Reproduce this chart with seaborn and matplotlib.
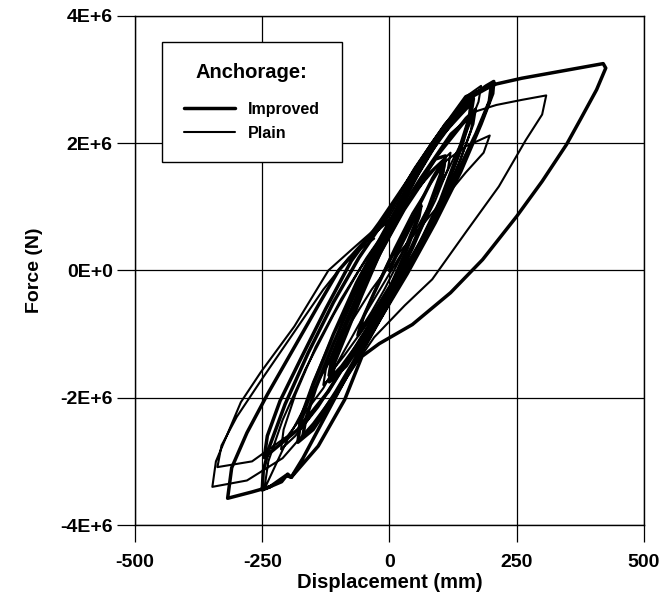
import matplotlib
matplotlib.use("Agg")
import matplotlib.pyplot as plt
from matplotlib.lines import Line2D
import seaborn as sns
import pandas as pd

# Improved anchorage (thick line): (displacement mm, force MN) traced along the cycles
improved_pts = [
    (0, 0), (20, 0.35), (45, 0.75), (62, 1.02),
    (58, 0.85), (35, 0.35), (5, -0.2), (-30, -0.65), (-62, -1.02),
    (-55, -0.8), (-30, -0.35), (0, 0.15), (30, 0.6), (60, 1.05), (85, 1.45), (105, 1.72),
    (100, 1.5), (75, 0.95), (40, 0.3), (0, -0.3), (-45, -0.95), (-85, -1.45), (-112, -1.68),
    (-108, -1.45), (-85, -1.0), (-55, -0.4), (-20, 0.25), (20, 0.85), (60, 1.4), (90, 1.75), (110, 1.8),
    (105, 1.55), (80, 1.0), (45, 0.35), (5, -0.3), (-40, -0.95), (-85, -1.5), (-118, -1.75),
    (-115, -1.5), (-95, -1.05), (-65, -0.45), (-30, 0.2), (10, 0.8), (55, 1.5), (100, 2.1), (140, 2.45), (160, 2.62),
    (157, 2.4), (135, 1.85), (100, 1.1), (55, 0.35), (5, -0.4), (-50, -1.15), (-105, -1.9), (-145, -2.4), (-170, -2.6),
    (-165, -2.35), (-145, -1.85), (-110, -1.15), (-70, -0.4), (-25, 0.35), (25, 1.1), (80, 1.85), (130, 2.4), (165, 2.7),
    (160, 2.45), (140, 1.9), (105, 1.15), (60, 0.4), (10, -0.35), (-45, -1.15), (-105, -1.95), (-150, -2.5), (-180, -2.7),
    (-175, -2.4), (-150, -1.8), (-110, -1.0), (-65, -0.2), (-15, 0.55), (40, 1.35), (100, 2.15), (155, 2.7), (190, 2.9), (205, 2.97),
    (203, 2.78), (180, 2.3), (140, 1.55), (90, 0.75), (35, -0.05), (-25, -0.85), (-80, -1.6), (-130, -2.35), (-170, -2.95),
    (-193, -3.25), (-200, -3.2), (-212, -3.32), (-250, -3.45),
    (-248, -3.15), (-235, -2.75), (-205, -2.1), (-160, -1.3), (-110, -0.5), (-60, 0.2), (-5, 0.85), (50, 1.6), (110, 2.3), (160, 2.72), (200, 2.9),
    (196, 2.65), (170, 2.15), (125, 1.4), (70, 0.55), (10, -0.25), (-55, -1.05), (-120, -1.9), (-180, -2.5), (-225, -2.8), (-246, -2.94),
    (-240, -2.6), (-215, -2.05), (-175, -1.4), (-125, -0.6), (-75, 0.15), (-20, 0.75), (35, 1.4), (84, 2.0), (150, 2.73), (210, 2.93),
    (260, 3.02), (330, 3.12), (385, 3.2), (420, 3.25),
    (425, 3.18), (407, 2.84), (375, 2.37), (348, 1.98), (300, 1.4), (250, 0.85), (183, 0.17), (120, -0.35), (45, -0.85),
    (-20, -1.15), (-54, -1.35), (-88, -2.03), (-140, -2.76), (-193, -3.25), (-203, -3.22), (-235, -3.4), (-270, -3.48), (-318, -3.58),
    (-310, -3.1), (-280, -2.55), (-240, -1.95), (-190, -1.25), (-140, -0.55), (-100, 0.0), (-50, 0.45), (0, 0.8),
]

# Plain anchorage (thin line)
plain_pts = [
    (0, 0), (25, 0.5), (55, 0.95),
    (50, 0.75), (25, 0.25), (-10, -0.3), (-35, -0.65), (-55, -0.9),
    (-50, -0.7), (-25, -0.25), (10, 0.35), (45, 0.9), (80, 1.35), (110, 1.72),
    (105, 1.5), (80, 1.0), (45, 0.4), (0, -0.25), (-45, -0.85), (-90, -1.35), (-120, -1.65),
    (-115, -1.4), (-90, -0.95), (-55, -0.35), (-15, 0.3), (30, 0.95), (80, 1.55), (120, 1.85),
    (115, 1.6), (90, 1.1), (50, 0.45), (5, -0.25), (-45, -0.95), (-95, -1.5), (-130, -1.8),
    (-125, -1.55), (-100, -1.05), (-65, -0.4), (-20, 0.3), (35, 1.05), (95, 1.8), (145, 2.3), (165, 2.45),
    (160, 2.2), (135, 1.65), (95, 0.95), (45, 0.25), (-10, -0.45), (-70, -1.25), (-130, -2.0), (-165, -2.4), (-180, -2.55),
    (-175, -2.3), (-150, -1.75), (-110, -1.0), (-65, -0.3), (-15, 0.4), (45, 1.2), (110, 2.0), (150, 2.4), (170, 2.55),
    (165, 2.3), (140, 1.75), (100, 1.0), (50, 0.25), (-10, -0.5), (-75, -1.35), (-140, -2.15), (-185, -2.6), (-213, -2.81),
    (-208, -2.5), (-185, -1.95), (-145, -1.2), (-95, -0.45), (-45, 0.2), (20, 0.95), (90, 1.6), (150, 1.95), (197, 2.12),
    (185, 1.85), (150, 1.54), (84, 0.9), (19, 0.28), (-35, -0.3), (-90, -1.0), (-150, -1.9), (-200, -2.65), (-246, -3.44),
    (-238, -3.0), (-210, -2.35), (-165, -1.55), (-110, -0.7), (-60, 0.0), (0, 0.7), (60, 1.45), (120, 2.15), (170, 2.5),
    (210, 2.6), (260, 2.68), (308, 2.75),
    (300, 2.45), (268, 2.05), (215, 1.32), (150, 0.6), (84, -0.14), (30, -0.55), (-30, -1.05), (-90, -1.75), (-150, -2.4),
    (-210, -2.95), (-280, -3.3), (-348, -3.4),
    (-341, -3.0), (-292, -2.07), (-253, -1.6), (-187, -0.88), (-120, 0.0), (-74, 0.33), (0, 0.85), (84, 2.0), (150, 2.73), (180, 2.9),
    (175, 2.65), (150, 2.15), (110, 1.5), (60, 0.75), (0, -0.05), (-60, -0.85), (-130, -1.85), (-200, -2.6), (-270, -3.0), (-338, -3.09),
    (-330, -2.75), (-300, -2.3), (-250, -1.7), (-190, -1.0), (-130, -0.3), (-80, 0.2), (-30, 0.5),
]

series_names = ["Improved", "Plain"]
x_ticks = [-500, -250, 0, 250, 500]
y_ticks = [-4e6, -2e6, 0, 2e6, 4e6]
y_tick_labels = ["-4E+6", "-2E+6", "0E+0", "2E+6", "4E+6"]

sns.set_theme(style="white")
plt.rcParams["font.family"] = ["Liberation Sans", "DejaVu Sans"]
plt.rcParams["text.color"] = "black"
plt.rcParams["axes.labelcolor"] = "black"
plt.rcParams["xtick.color"] = "black"
plt.rcParams["ytick.color"] = "black"

df_imp = pd.DataFrame({"Displacement": [p[0] for p in improved_pts],
                       "Force": [p[1] * 1e6 for p in improved_pts]})
df_pl = pd.DataFrame({"Displacement": [p[0] for p in plain_pts],
                      "Force": [p[1] * 1e6 for p in plain_pts]})

fig = plt.figure(figsize=(6.67, 5.99), dpi=100)
ax = fig.add_axes([0.2024, 0.1235, 0.763, 0.85])

sns.lineplot(data=df_pl, x="Displacement", y="Force", sort=False, estimator=None,
             color="black", linewidth=1.5, ax=ax)
sns.lineplot(data=df_imp, x="Displacement", y="Force", sort=False, estimator=None,
             color="black", linewidth=2.5, ax=ax)

ax.set_xlim(-500, 500)
ax.set_ylim(-4e6, 4e6)
ax.set_xticks(x_ticks)
ax.set_xticklabels([str(t) for t in x_ticks], fontsize=14, fontweight="bold")
ax.set_yticks(y_ticks)
ax.set_yticklabels(y_tick_labels, fontsize=14, fontweight="bold")
ax.grid(True, color="black", linewidth=0.9)
ax.set_axisbelow(True)
for s in ax.spines.values():
    s.set_color("black")
    s.set_linewidth(1.0)
ax.tick_params(axis="x", direction="out", length=12, width=0.9, color="black", bottom=True, pad=9)
ax.tick_params(axis="y", direction="out", length=13, width=0.9, color="black", left=True, pad=3)
ax.set_xlabel("Displacement (mm)", fontsize=14.5, fontweight="bold", labelpad=1)
ax.set_ylabel("Force (N)", fontsize=14, fontweight="bold", labelpad=12)

handles = [Line2D([], [], color="black", linewidth=2.5),
           Line2D([], [], color="black", linewidth=1.5)]
leg = ax.legend(handles, series_names, title="Anchorage:",
                loc="upper left", bbox_to_anchor=(0.053, 0.949), borderaxespad=0,
                prop={"weight": "bold", "size": 11.5},
                title_fontproperties={"weight": "bold", "size": 14.5},
                frameon=True, fancybox=False, edgecolor="black", framealpha=1,
                handlelength=3.2, handletextpad=0.85, borderpad=1.35, labelspacing=0.55)
leg.get_frame().set_linewidth(1.0)
leg._legend_box.sep = 14

fig.savefig("out.png", dpi=100)
